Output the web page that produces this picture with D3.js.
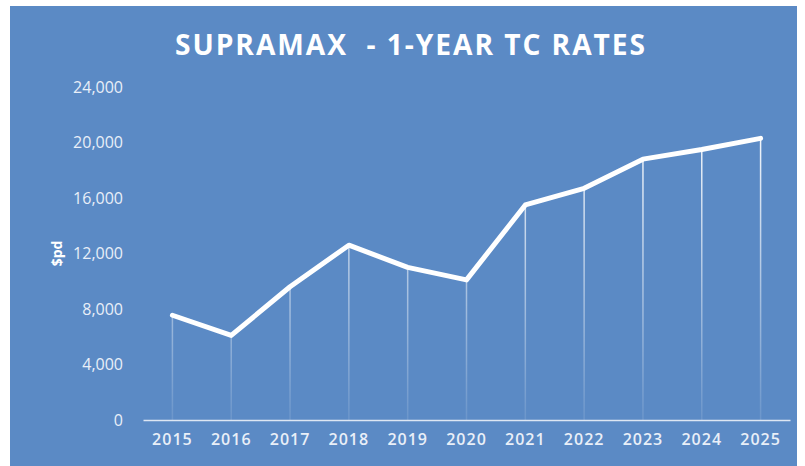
<!DOCTYPE html>
<html>
<head>
<meta charset="utf-8">
<script src="https://cdn.jsdelivr.net/npm/d3@7"></script>
<style>
  html, body { margin: 0; padding: 0; background: #fff; }
  svg text { font-family: "Open Sans", "Liberation Sans", sans-serif; }
</style>
</head>
<body>
<script>
// chart values
var years = ["2015","2016","2017","2018","2019","2020","2021","2022","2023","2024","2025"];
var rates = [7550, 6100, 9600, 12600, 11000, 10100, 15500, 16700, 18800, 19500, 20300];
var yTicks = [0, 4000, 8000, 12000, 16000, 20000, 24000];

var W = 805, H = 466,
    bg = "#5B8AC5",
    margin = {left: 143, right: 15, top: 87, bottom: 46};

var svg = d3.select("body").append("svg").attr("width", W).attr("height", H);

svg.append("rect").attr("x", 10).attr("y", 6).attr("width", 787).attr("height", 460).attr("fill", bg);

var x = d3.scaleBand().domain(years).range([margin.left, W - margin.right]),
    y = d3.scaleLinear().domain([0, 24000]).range([H - margin.bottom, margin.top]);

// fade for the drop lines (user space, since a vertical line has no bbox width)
var grad = svg.append("defs").append("linearGradient")
    .attr("id", "drop").attr("gradientUnits", "userSpaceOnUse")
    .attr("x1", 0).attr("y1", y(21000)).attr("x2", 0).attr("y2", y(0));
grad.append("stop").attr("offset", "0%").attr("stop-color", "#fff").attr("stop-opacity", 0.95);
grad.append("stop").attr("offset", "100%").attr("stop-color", "#fff").attr("stop-opacity", 0.1);

// title: big bold glyphs squeezed to the reference width, like Calibri
svg.append("text")
    .attr("x", 411).attr("y", 55)
    .attr("text-anchor", "middle")
    .attr("fill", "#fff")
    .style("font-size", "29px").style("font-weight", "bold")
    .style("letter-spacing", "2px")
    .style("white-space", "pre")
    .attr("textLength", 472).attr("lengthAdjust", "spacingAndGlyphs")
    .text("SUPRAMAX  - 1-YEAR TC RATES");

// y axis labels
svg.append("g").selectAll("text").data(yTicks).enter().append("text")
    .attr("x", 123).attr("y", function(d) { return y(d); })
    .attr("dy", "0.36em")
    .attr("text-anchor", "end")
    .attr("fill", "#e9eff8")
    .style("font-size", "16px")
    .text(d3.format(","));

svg.append("text")
    .attr("transform", "translate(62," + y(12000) + ") rotate(-90)")
    .attr("text-anchor", "middle")
    .attr("fill", "#fff")
    .style("font-size", "14px").style("font-weight", "bold")
    .text("$pd");

// drop lines
var cx = function(d, i) { return x(years[i]) + x.bandwidth() / 2; };
svg.append("g").selectAll("line").data(rates).enter().append("line")
    .attr("x1", cx).attr("x2", cx)
    .attr("y1", function(d) { return y(d); }).attr("y2", y(0))
    .attr("stroke", "url(#drop)")
    .attr("stroke-width", 1.5);

// x axis
var xAxis = svg.append("g")
    .attr("transform", "translate(0," + y(0) + ")")
    .call(d3.axisBottom(x).tickSize(0).tickPadding(14));
xAxis.select(".domain").attr("stroke", "#dde6f3").attr("stroke-width", 1.5);
xAxis.selectAll("text")
    .attr("fill", "#e9eff8")
    .style("font-size", "16px").style("font-family", "'Open Sans', sans-serif")
    .style("font-weight", "600")
    .style("letter-spacing", "1px");

// the line
svg.append("path")
    .datum(rates)
    .attr("fill", "none")
    .attr("stroke", "#fff")
    .attr("stroke-width", 5)
    .attr("stroke-linejoin", "round")
    .attr("stroke-linecap", "round")
    .attr("d", d3.line().x(cx).y(function(d) { return y(d); }));
</script>
</body>
</html>
